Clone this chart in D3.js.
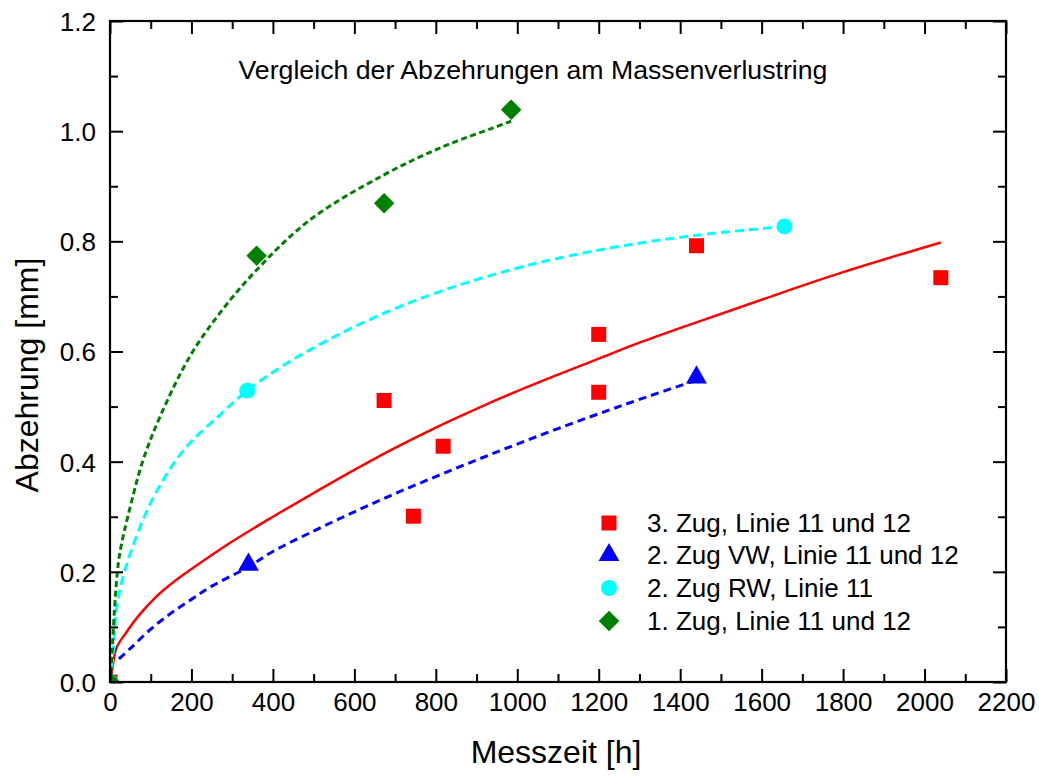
<!DOCTYPE html>
<html>
<head>
<meta charset="utf-8">
<script src="https://cdn.jsdelivr.net/npm/d3@7"></script>
<style>
  html, body { margin: 0; padding: 0; background: #fff; }
  svg { display: block; }
  text { font-family: "Liberation Sans", Arial, Helvetica, sans-serif; fill: #000; }
</style>
</head>
<body>
<svg id="chart" width="1039" height="778"></svg>
<script>
// ---------- data ----------
const xTicks = [0, 200, 400, 600, 800, 1000, 1200, 1400, 1600, 1800, 2000, 2200];
const yTicks = [0.0, 0.2, 0.4, 0.6, 0.8, 1.0, 1.2];

const seriesNames = ["3. Zug, Linie 11 und 12", "2. Zug VW, Linie 11 und 12", "2. Zug RW, Linie 11", "1. Zug, Linie 11 und 12"];

// measured points
const zug3X = [0, 673, 745, 818, 1200, 1200, 1440, 2040];
const zug3Y = [0, 0.511, 0.301, 0.428, 0.631, 0.526, 0.792, 0.734];
const zug2vwX = [0, 340, 1440];
const zug2vwY = [0, 0.213, 0.553];
const zug2rwX = [0, 337, 1656];
const zug2rwY = [0, 0.529, 0.827];
const zug1X = [0, 360, 673, 985];
const zug1Y = [0, 0.774, 0.869, 1.039];

// fitted curves (as drawn in the picture)
const fit3X = [0, 4, 16, 40, 70, 115, 150, 200, 300, 400, 500, 600, 700, 800, 900, 1000, 1100, 1200, 1300, 1440, 1600, 1800, 2040];
const fit3Y = [0, 0.015, 0.062, 0.09, 0.12, 0.156, 0.178, 0.205, 0.255, 0.30, 0.343, 0.385, 0.425, 0.462, 0.496, 0.528, 0.558, 0.587, 0.616, 0.653, 0.694, 0.744, 0.798];
const fit2vwX = [22, 50, 100, 150, 200, 250, 340, 400, 500, 600, 700, 800, 900, 1000, 1100, 1200, 1300, 1440];
const fit2vwY = [0.042, 0.061, 0.096, 0.125, 0.150, 0.174, 0.209, 0.237, 0.274, 0.309, 0.342, 0.373, 0.403, 0.432, 0.460, 0.487, 0.513, 0.548];
const fit2rwX = [0, 8, 16, 37, 102, 180, 270, 337, 420, 491, 589, 700, 818, 982, 1105, 1244, 1440, 1656];
const fit2rwY = [0, 0.054, 0.132, 0.204, 0.328, 0.42, 0.485, 0.529, 0.572, 0.603, 0.641, 0.678, 0.711, 0.748, 0.770, 0.790, 0.811, 0.827];
const fit1X = [0, 5, 10, 20, 29, 45, 80, 123, 196, 270, 360, 491, 671, 818, 941, 985];
const fit1Y = [0, 0.05, 0.12, 0.213, 0.253, 0.304, 0.40, 0.482, 0.591, 0.670, 0.748, 0.839, 0.920, 0.972, 1.006, 1.018];

// ---------- layout ----------
const svg = d3.select("#chart");
const X0 = 110, X1 = 1006, Y0 = 682, Y1 = 21;
const x = d3.scaleLinear().domain([0, 2200]).range([X0, X1]);
const y = d3.scaleLinear().domain([0, 1.2]).range([Y0, Y1]);

const FONT = 26;

svg.append("defs").append("clipPath").attr("id", "plotclip")
  .append("rect").attr("x", X0).attr("y", Y1).attr("width", X1 - X0).attr("height", Y0 - Y1);

// ---------- fitted lines ----------
const zip = (xs, ys) => xs.map((v, i) => [v, ys[i]]);
const line = d3.line().x(d => x(d[0])).y(d => y(d[1])).curve(d3.curveCatmullRom.alpha(0.5));

const plot = svg.append("g").attr("clip-path", "url(#plotclip)");

const fits = [
  { pts: zip(fit3X, fit3Y), color: "#ff0000", dash: null, w: 2.5 },
  { pts: zip(fit2vwX, fit2vwY), color: "#0000ff", dash: "8,5", w: 3 },
  { pts: zip(fit2rwX, fit2rwY), color: "#00ffff", dash: "9,5", w: 3 },
  { pts: zip(fit1X, fit1Y), color: "#008000", dash: "6,3.5", w: 3 }
];
fits.forEach(f => {
  plot.append("path").datum(f.pts)
    .attr("d", line).attr("fill", "none")
    .attr("stroke", f.color).attr("stroke-width", f.w)
    .attr("stroke-dasharray", f.dash);
});

// ---------- markers ----------
const symSquare = d3.symbol().type(d3.symbolSquare).size(225);
const symTri = d3.symbol().type(d3.symbolTriangle).size(190);
const symCircle = d3.symbol().type(d3.symbolCircle).size(200);
const symDiamond = d3.symbol().type(d3.symbolSquare).size(210);

const markerSets = [
  { pts: zip(zug3X, zug3Y), sym: symSquare, color: "#ff0000", rot: 0 },
  { pts: zip(zug2vwX, zug2vwY), sym: symTri, color: "#0000ff", rot: 0 },
  { pts: zip(zug2rwX, zug2rwY), sym: symCircle, color: "#00ffff", rot: 0 },
  { pts: zip(zug1X, zug1Y), sym: symDiamond, color: "#008000", rot: 45 }
];
markerSets.forEach(m => {
  plot.selectAll(null).data(m.pts).enter().append("path")
    .attr("d", m.sym())
    .attr("transform", d => `translate(${x(d[0])},${y(d[1])}) rotate(${m.rot})`)
    .attr("fill", m.color);
});

// ---------- axes (frame with inward ticks) ----------
const axG = svg.append("g");
const majorLen = 13, minorLen = 8;
const xMinor = d3.range(100, 2200, 200);
const yMinor = d3.range(0.1, 1.2, 0.2);

axG.append("rect").attr("x", X0).attr("y", Y1).attr("width", X1 - X0).attr("height", Y0 - Y1)
  .attr("fill", "none").attr("stroke", "#000").attr("stroke-width", 2.2);

const gB = axG.append("g").attr("transform", `translate(0,${Y0})`).call(d3.axisBottom(x).tickValues(xTicks).tickSizeInner(-majorLen).tickSizeOuter(0).tickPadding(24).tickFormat(d3.format("d")));
const gBm = axG.append("g").attr("transform", `translate(0,${Y0})`).call(d3.axisBottom(x).tickValues(xMinor).tickSizeInner(-minorLen).tickSizeOuter(0).tickFormat(""));
const gT = axG.append("g").attr("transform", `translate(0,${Y1})`).call(d3.axisTop(x).tickValues(xTicks).tickSizeInner(-majorLen).tickSizeOuter(0).tickFormat(""));
const gTm = axG.append("g").attr("transform", `translate(0,${Y1})`).call(d3.axisTop(x).tickValues(xMinor).tickSizeInner(-minorLen).tickSizeOuter(0).tickFormat(""));
const gL = axG.append("g").attr("transform", `translate(${X0},0)`).call(d3.axisLeft(y).tickValues(yTicks).tickSizeInner(-majorLen).tickSizeOuter(0).tickPadding(14).tickFormat(d3.format(".1f")));
const gLm = axG.append("g").attr("transform", `translate(${X0},0)`).call(d3.axisLeft(y).tickValues(yMinor).tickSizeInner(-minorLen).tickSizeOuter(0).tickFormat(""));
const gR = axG.append("g").attr("transform", `translate(${X1},0)`).call(d3.axisRight(y).tickValues(yTicks).tickSizeInner(-majorLen).tickSizeOuter(0).tickFormat(""));
const gRm = axG.append("g").attr("transform", `translate(${X1},0)`).call(d3.axisRight(y).tickValues(yMinor).tickSizeInner(-minorLen).tickSizeOuter(0).tickFormat(""));

[gB, gBm, gT, gTm, gL, gLm, gR, gRm].forEach(g => {
  g.select(".domain").remove();
  g.selectAll(".tick line").attr("stroke", "#000").attr("stroke-width", 2);
  g.selectAll(".tick text").attr("font-size", FONT).attr("font-family", '"Liberation Sans", Arial, sans-serif').attr("fill", "#000");
});
gB.selectAll(".tick text").attr("dy", "0.2em");
gL.selectAll(".tick text").attr("dy", "0.36em");

// ---------- titles ----------
svg.append("text").attr("x", 533).attr("y", 79).attr("text-anchor", "middle")
  .attr("font-size", 26.7).text("Vergleich der Abzehrungen am Massenverlustring");

svg.append("text").attr("x", 556).attr("y", 763).attr("text-anchor", "middle")
  .attr("font-size", 32).text("Messzeit [h]");

svg.append("text").attr("transform", "translate(38,375) rotate(-90)").attr("text-anchor", "middle")
  .attr("font-size", 32).text("Abzehrung [mm]");

// ---------- legend ----------
const legY = [523, 555, 588, 621];
const leg = svg.append("g");
markerSets.forEach((m, i) => {
  leg.append("path").attr("d", m.sym())
    .attr("transform", `translate(609,${legY[i]}) rotate(${m.rot})`)
    .attr("fill", m.color);
  leg.append("text").attr("x", 647).attr("y", legY[i]).attr("dy", "0.36em")
    .attr("font-size", FONT).text(seriesNames[i]);
});
</script>
</body>
</html>
